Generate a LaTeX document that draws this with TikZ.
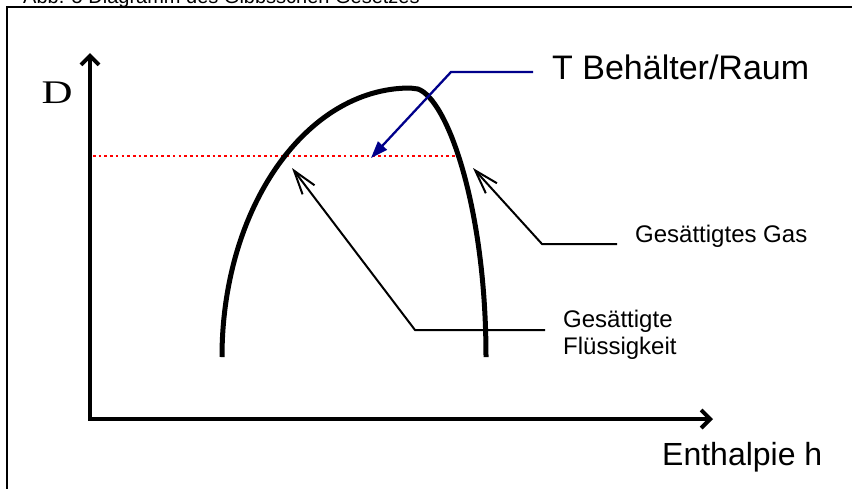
\documentclass[tikz,border=0pt]{standalone}
\usepackage{fontspec}
\setmainfont{Liberation Sans}
\newfontfamily\serifD{Liberation Serif}
\usetikzlibrary{arrows.meta}
\definecolor{pointerblue}{RGB}{0,0,139}

\begin{document}
\begin{tikzpicture}[x=1pt, y=-1pt,
    axisline/.style={line width=4pt, line join=miter,
      {Straight Barb[length=9pt,width=18pt]}-{Straight Barb[length=9pt,width=18pt]}},
    dome/.style={line width=5pt, line join=round},
    isotherm/.style={draw=red, line width=2.6pt, dash pattern=on 2.6pt off 3.1pt},
    leader/.style={line width=2pt, -{Straight Barb[length=24pt,width=15pt]}},
    blueleader/.style={line width=2.3pt, draw=pointerblue,
      -{Triangle[length=17pt,width=12pt,fill=pointerblue]}},
    txt/.style={inner sep=0pt, anchor=base west}]
    \useasboundingbox (0,0) rectangle (852,488);
    % Rahmen und Titel
    \node[txt, font=\fontsize{20}{24}\selectfont] (title) at (23,3) {Abb. 5 Diagramm des Gibbsschen Gesetzes};
    \draw[line width=2.3pt] (7,500) -- (7,7) -- (870,7);
    % Achsen
    \coordinate (ytip) at (90,53);
    \coordinate (origin) at (90,419);
    \coordinate (xtip) at (713,419);
    \draw[axisline] (ytip) -- (origin) -- (xtip);
    \node[inner sep=0pt, anchor=base] (dlabel) at (57,103) {\serifD\fontsize{33}{38}\selectfont\scalebox{1.3}[1]{D}};
    \node[txt, font=\fontsize{32}{38}\selectfont] (enthalpy) at (662,465) {Enthalpie h};
    % Isotherme
    \coordinate (isoL) at (93,156);
    \coordinate (isoR) at (462,156);
    \draw[isotherm] (isoL) -- (isoR);
    % Grenzkurve
    \draw[dome] (222,357) .. controls (222,208) and (306,88) .. (410,88) -- (418,89)
      .. controls (448,100) and (486,209) .. (486,357);
    % Beschriftungen
    \node[txt, font=\fontsize{34}{40}\selectfont] (room) at (552,79) {T Behälter/Raum};
    \node[txt, font=\fontsize{24}{27}\selectfont] (gas) at (635,242) {Gesättigtes Gas};
    \node[txt, font=\fontsize{24}{27}\selectfont] (liquid) at (563,327) {Gesättigte};
    \node[txt, font=\fontsize{24}{27}\selectfont] (liquid2) at (563,354) {Flüssigkeit};
    \coordinate (roomend) at (533,72);
    \coordinate (roomknee) at (451,72);
    \coordinate (roomtip) at (371,158);
    \draw[blueleader] (roomend) -- (roomknee) -- (roomtip);
    \coordinate (gasend) at (617,244);
    \coordinate (gasknee) at (542,244);
    \coordinate (gastip) at (473,168);
    \draw[leader] (gasend) -- (gasknee) -- (gastip);
    \coordinate (liquidend) at (545,330);
    \coordinate (liquidknee) at (415,330);
    \coordinate (liquidtip) at (292,168);
    \draw[leader] (liquidend) -- (liquidknee) -- (liquidtip);
\end{tikzpicture}
\end{document}
